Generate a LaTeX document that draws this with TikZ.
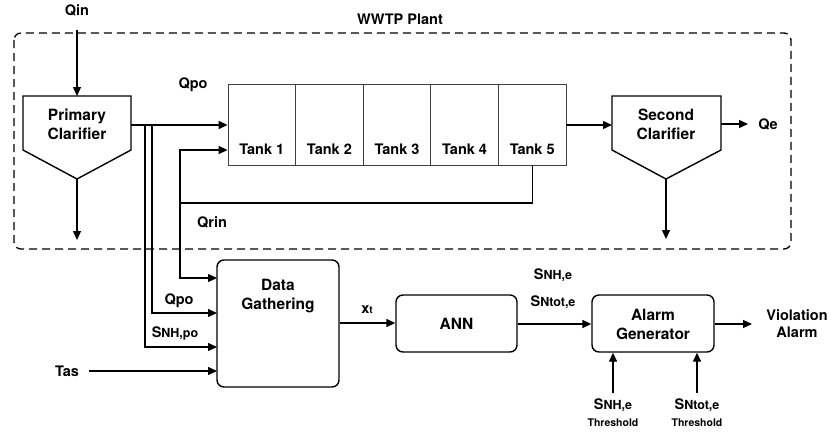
\documentclass[tikz,border=0pt]{standalone}
\usepackage{fontspec}
\setmainfont{TeX Gyre Heros}
\usetikzlibrary{arrows.meta,calc}
\newcommand\smtx[1]{{\fontsize{12.5}{14}\selectfont #1}}
\newcommand\tnytx[1]{{\fontsize{10}{12}\selectfont #1}}
\tikzset{
  ln/.style={line width=1.4pt},
  arr/.style={ln,-{Triangle[length=9pt,width=8pt]}},
  lbl/.style={font=\fontsize{14.5}{17}\selectfont\bfseries,inner sep=0pt,align=center},
  big/.style={font=\fontsize{15.5}{19}\selectfont\bfseries,inner sep=0pt,align=center},
  clar/.style={ln,line join=miter},
  tankbox/.style={draw=black!75,line width=0.8pt,minimum width=67.6pt,minimum height=81pt,inner sep=0pt},
  blk/.style={draw,ln,rounded corners=7pt,inner sep=0pt},
  thr/.style={font=\fontsize{10.5}{17}\selectfont\bfseries,inner sep=0pt,align=center},
}
\begin{document}
\begin{tikzpicture}[x=1pt,y=-1pt]
\useasboundingbox (0,0) rectangle (831,434);
% plant boundary
\draw[line width=1.3pt,dash pattern=on 8pt off 5pt,rounded corners=7pt] (14,33) rectangle (791,249);
\node[lbl] (wwtp) at (400,19) {WWTP Plant};
% primary clarifier
\draw[clar] (23,96) -- (131,96) -- (131,150) -- (77,179) -- (23,150) -- cycle;
\node[big] (pc) at (77,124) {Primary\\Clarifier};
\coordinate (pcTop) at (77,96);
\coordinate (pcBot) at (77,179);
\coordinate (pcR) at (131,125);
\coordinate (pcOut) at (77,240);
\node[lbl] (qin) at (77,10) {Qin};
\coordinate (qinS) at (77,30);
\draw[arr] (qinS) -- (pcTop);
\draw[arr] (pcBot) -- (pcOut);
% tanks
\foreach \i/\cx in {1/261.8,2/329.4,3/397,4/464.6,5/532.2}{
  \node[tankbox] (t\i) at (\cx,124.5) {};
  \node[lbl] (tl\i) at (\cx,149) {Tank \i};
}
\coordinate (t1inA) at ($(t1.west)+(0,0.5)$);
\coordinate (t1inB) at ($(t1.west)+(0,25.5)$);
\node[lbl] (qpo) at (193,85) {Qpo};
\draw[arr] (pcR) -- (t1inA);
% second clarifier
\draw[clar] (612,96) -- (721,96) -- (721,150) -- (666,179) -- (612,150) -- cycle;
\node[big] (sc) at (666,124) {Second\\Clarifier};
\coordinate (scL) at (612,125);
\coordinate (scR) at (721,124);
\coordinate (scBot) at (666,179);
\coordinate (scOut) at (666,239);
\coordinate (t5out) at ($(t5.east)+(0,0.5)$);
\draw[arr] (t5out) -- (scL);
\node[lbl] (qe) at (768,124) {Qe};
\coordinate (qeA) at (748,124);
\draw[arr] (scR) -- (qeA);
\draw[arr] (scBot) -- (scOut);
% internal recycle
\coordinate (rin) at (180,203);
\node[lbl] (qrin) at (212,222) {Qrin};
\draw[ln] (t5.south) |- (rin);
\draw[arr] (rin) |- (t1inB);
% lower blocks
\node[blk,minimum width=122pt,minimum height=127pt] (dg) at (278,323.5) {};
\node[big] (dgt) at (278,296) {Data\\Gathering};
\node[blk,minimum width=121pt,minimum height=57pt] (ann) at (456.5,323.5) {};
\node[big] (annt) at (456.5,324) {ANN};
\node[blk,minimum width=122pt,minimum height=57pt] (ag) at (653,323.5) {};
\node[big] (agt) at (653,324) {Alarm\\Generator};
% inputs to data gathering
\coordinate (dgA) at (217,278);
\coordinate (dgB) at (217,313);
\coordinate (dgC) at (217,347);
\coordinate (dgD) at (217,371);
\coordinate (brA) at (145,125);
\coordinate (brB) at (152,125);
\draw[arr] (rin) |- (dgA);
\draw[arr] (brB) |- (dgB);
\draw[arr] (brA) |- (dgC);
\node[lbl] (qpo2) at (179,301) {Qpo};
\node[lbl] (snhpo) at (175,333) {S\smtx{NH,po}};
\node[lbl] (tas) at (67,371) {Tas};
\coordinate (tasA) at (89,371);
\draw[arr] (tasA) -- (dgD);
% data flow
\draw[arr] ($(dg.east)+(0,-0.5)$) -- ($(ann.west)+(0,-0.5)$);
\node[lbl] (xt) at (367,310) {x\tnytx{t}};
\draw[arr] ($(ann.east)+(0,0.5)$) -- ($(ag.west)+(0,0.5)$);
\node[lbl] (snhe) at (553,275) {S\smtx{NH,e}};
\node[lbl] (sntote) at (553,302) {S\smtx{Ntot,e}};
\coordinate (vaA) at (752,324);
\draw[arr] ($(ag.east)+(0,0.5)$) -- (vaA);
\node[lbl] (va) at (797,324) {Violation\\Alarm};
% thresholds
\coordinate (thA) at (613,393);
\coordinate (thB) at (697,393);
\draw[arr] (thA) -- (ag.south -| thA);
\draw[arr] (thB) -- (ag.south -| thB);
\node[thr] (thAl) at (613,413) {{\fontsize{14.5}{17}\selectfont S}{\fontsize{12.5}{17}\selectfont NH,e}\\Threshold};
\node[thr] (thBl) at (697,413) {{\fontsize{14.5}{17}\selectfont S}{\fontsize{12.5}{17}\selectfont Ntot,e}\\Threshold};
\end{tikzpicture}
\end{document}
